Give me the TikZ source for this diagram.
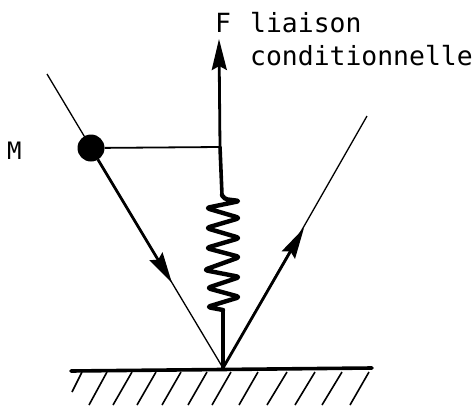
\documentclass[tikz,border=0pt]{standalone}
\usepackage{fontspec}
\setmonofont{DejaVu Sans Mono}
\usetikzlibrary{positioning,arrows.meta}

\begin{document}
\begin{tikzpicture}[x=1pt, y=-1pt, >=Stealth, font=\fontsize{26.4}{33}\selectfont\ttfamily]
\tikzstyle{thinline}=[line width=1.3pt]
\tikzstyle{midline}=[line width=1.8pt]
\tikzstyle{arr}=[-{Stealth[length=31pt, width=15pt, inset=4pt]}, line width=2.8pt]
\tikzstyle{heavy}=[line width=3.6pt, line cap=round, line join=round]
\tikzstyle{coilline}=[line width=4.4pt, line cap=round, line join=round, rounded corners=3.5pt]
\tikzstyle{hatch}=[line width=1.6pt]
\tikzstyle{lbl}=[inner sep=0pt, anchor=base west]

\useasboundingbox (0,0) rectangle (475,410);

\coordinate (inTop) at (47,74);
\coordinate (inTip) at (172,283);
\coordinate (outTip) at (304,228);
\coordinate (outTop) at (367,116);
\coordinate (impact) at (223,368);
\coordinate (groundL) at (71,371);
\coordinate (groundR) at (372,368);
\coordinate (knee) at (220,147);
\coordinate (forceTip) at (219,39);
\coordinate (springTop) at (222,195);
\coordinate (springEnd) at (223,310);

\node[circle, fill=black, minimum size=27pt, inner sep=0pt] (mass) at (91,148) {};
\node[lbl] (labelM) at (7,159) {\fontsize{24}{28}\selectfont M};
\node[lbl] (labelF) at (215,32) {F};
\node[lbl] (labelLiaison) at (250,32) {liaison};
\node[lbl] (labelCond) at (250,65) {conditionnelle};

\draw[thinline] (inTop) -- (impact);
\draw[arr] (mass) -- (inTip);
\draw[thinline] (impact) -- (outTop);
\draw[arr] (impact) -- (outTip);
\draw[midline] (mass) -- (knee);
\draw[arr] (knee) -- (forceTip);
\draw[heavy] (knee) -- (springTop);
\draw[coilline] (springTop) -- (224,199) -- (240,201) -- (206,208) -- (240,218) -- (206,228)
  -- (240,238) -- (206,248) -- (240,257) -- (204,270) -- (240,277) -- (207,288)
  -- (240,297) -- (207,307) -- (springEnd);
\draw[heavy] (springEnd) -- (impact);
\draw[heavy] (groundL) -- (groundR);

\foreach \xa/\xb/\yb in {82/72/392,107/89/405,132/113/405,156/137/405,181/162/405,207/188/405,231/212/405,258/239/405,287/267/405,315/295/405,342/322/405,369/350/405}
  \draw[hatch] (\xa,372) -- (\xb,\yb);
\end{tikzpicture}
\end{document}
